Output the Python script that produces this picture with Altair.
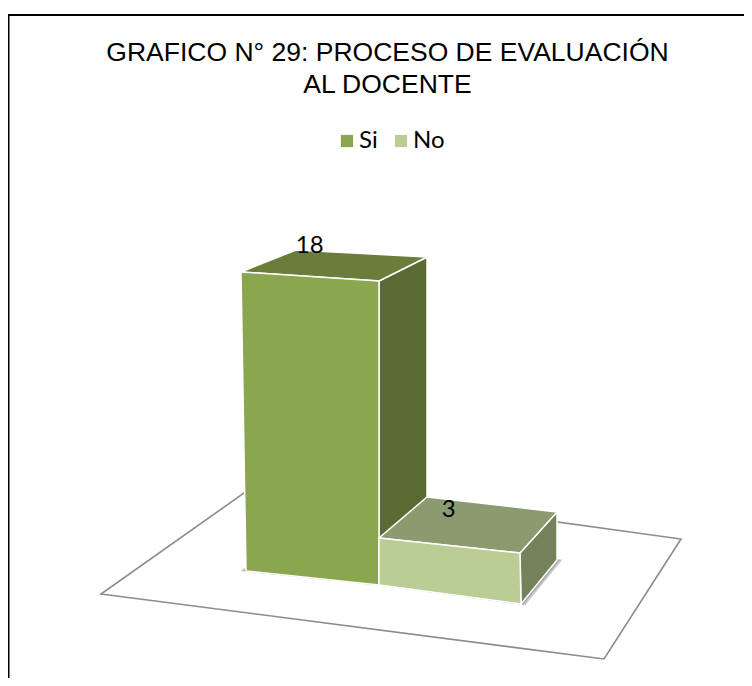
import altair as alt

CATEGORIES = ["Si", "No"]
VALUES = [18, 3]
FRONT_COLORS = ["#8aa64f", "#bacd94"]
TOP_COLORS = ["#6b7d3b", "#8b9a6f"]
SIDE_COLORS = ["#5a6a33", "#748259"]
TITLE_LINES = ["GRAFICO N° 29: PROCESO DE EVALUACIÓN", "AL DOCENTE"]

# Pseudo-3D projection calibration, in page pixels: the footprint of each bar
# (front-left, front-right, back-right, back-left) and how far each corner
# moves on screen per unit of value.
ORIGIN = (-8, -8)
FOOTPRINTS = {
    "Si": [(246, 571), (379, 585), (427, 545), (300, 530)],
    "No": [(379, 585), (521, 604), (557, 560), (427, 545)],
}
RISE = {
    "Si": [(-5 / 18, 299 / 18), (0, 304 / 18), (0, 288 / 18), (-4 / 18, 280 / 18)],
    "No": [(0, 47 / 3), (-1 / 3, 51 / 3), (0, 48 / 3), (0, 16)],
}
FLOOR_CORNERS = [(101, 594), (604, 659), (681, 539), (261, 481)]
LABEL_SHIFT = {"Si": (-26, -19), "No": (-22, -15)}


def poly(points):
    ring = [[x + ORIGIN[0], y + ORIGIN[1]] for x, y in points]
    ring.append(ring[0])
    return {"type": "Polygon", "coordinates": [ring]}


def feature(points, **props):
    return {"type": "Feature", "geometry": poly(points), "properties": props}


def raised(cat, value):
    return [
        (x + dx * value, y - dy * value)
        for (x, y), (dx, dy) in zip(FOOTPRINTS[cat], RISE[cat])
    ]


def grown(points, f):
    cx = sum(p[0] for p in points) / len(points)
    cy = sum(p[1] for p in points) / len(points)
    return [(cx + (x - cx) * f, cy + (y - cy) * f) for x, y in points]


shade_faces, front_faces, shadows, labels = [], [], [], []
outline = [FOOTPRINTS["Si"][0], FOOTPRINTS["Si"][1], FOOTPRINTS["No"][1],
           FOOTPRINTS["No"][2], FOOTPRINTS["Si"][3]]
for f in (1.035, 1.02):
    shadows.append(feature(grown(outline, f), kind="shadow"))

for i, (cat, val) in enumerate(zip(CATEGORIES, VALUES)):
    base = FOOTPRINTS[cat]
    top = raised(cat, val)
    shade_faces.append(feature([top[1], top[2], base[2], base[1]], shade=SIDE_COLORS[i]))
    shade_faces.append(feature(top, shade=TOP_COLORS[i]))
    front_faces.append(feature([top[0], top[1], base[1], base[0]], serie=cat))
    cx = sum(p[0] for p in top) / 4 + ORIGIN[0]
    cy = sum(p[1] for p in top) / 4 + ORIGIN[1]
    labels.append({"serie": cat, "valor": val, "px": cx + LABEL_SHIFT[cat][0],
                   "py": cy + LABEL_SHIFT[cat][1]})

PROJ = dict(type="identity", scale=1, translate=[0, 0])

floor = alt.Chart(alt.Data(values=[feature(FLOOR_CORNERS, kind="floor")])).mark_geoshape(
    fill="white", stroke="#8c8c8c", strokeWidth=1.6
).project(**PROJ)

shadow = alt.Chart(alt.Data(values=shadows)).mark_geoshape(
    fill="#555555", opacity=0.3, strokeWidth=0
).project(**PROJ)

shades = alt.Chart(alt.Data(values=shade_faces)).mark_geoshape(
    stroke="white", strokeWidth=1.5
).encode(
    color=alt.Color("properties.shade:N", scale=None, legend=None)
).project(**PROJ)

fronts = alt.Chart(alt.Data(values=front_faces)).mark_geoshape(
    stroke="white", strokeWidth=1.5
).encode(
    color=alt.Color(
        "properties.serie:N",
        scale=alt.Scale(domain=CATEGORIES, range=FRONT_COLORS),
        sort=CATEGORIES,
        legend=alt.Legend(
            title=None, orient="none", legendX=327, legendY=121, direction="horizontal",
            symbolType="square", symbolSize=150, symbolStrokeWidth=0,
            labelFont="Lato", labelFontSize=24, labelColor="black", columnPadding=11,
            labelOffset=0, columns=2,
        ),
    )
).project(**PROJ)

text = alt.Chart(alt.Data(values=labels)).mark_text(
    font="Lato", fontSize=24, color="black"
).encode(
    x=alt.X("px:Q", scale=None, axis=None),
    y=alt.Y("py:Q", scale=None, axis=None),
    text="valor:Q",
)

top_rule = alt.Chart(alt.Data(values=[{"a": 0}])).mark_rule(color="black", strokeWidth=2).encode(
    x=alt.value(0), x2=alt.value(736), y=alt.value(7)
)
left_rule = alt.Chart(alt.Data(values=[{"a": 0}])).mark_rule(color="black", strokeWidth=2).encode(
    x=alt.value(0.5), y=alt.value(6), y2=alt.value(670)
)

chart = (
    alt.layer(floor, shadow, shades, fronts, text, top_rule, left_rule)
    .resolve_scale(color="independent")
    .properties(
        width=736,
        height=670,
        padding=0,
        autosize=alt.AutoSizeParams(type="none"),
        title=alt.TitleParams(
            text=TITLE_LINES, font="Liberation Sans", fontSize=26.5, fontWeight="normal",
            color="black", anchor="middle", dx=11.5, dy=90, lineHeight=32, offset=0,
        ),
    )
    .configure_view(stroke=None)
)

chart.save("out.html", embed_options={"renderer": "svg", "actions": False})
